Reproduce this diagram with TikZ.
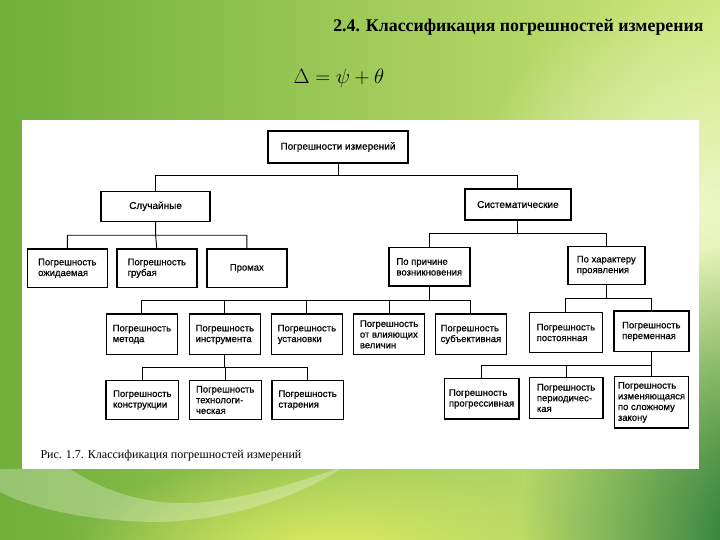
\documentclass[tikz,border=0pt]{standalone}
\usepackage{fontspec}
\setmainfont{Liberation Serif}
\newfontfamily\boxfont[FakeBold=0.6]{Liberation Sans}
\usetikzlibrary{fadings}
\definecolor{bgleft}{RGB}{112,174,58}
\definecolor{bgmid}{RGB}{160,202,62}
\definecolor{bgright}{RGB}{205,230,120}
\definecolor{bglight}{RGB}{238,247,200}
\definecolor{bgdark}{RGB}{22,112,52}
\definecolor{bgyellow}{RGB}{228,238,100}
\tikzfading[name=glow, inner color=transparent!0, outer color=transparent!100]
\tikzset{
  box/.style={draw, line width=1.4pt, fill=white, align=left, inner sep=2pt,
    font=\boxfont\fontsize{9.5}{10.7}\selectfont},
  big/.style={box, align=center, minimum width=106pt, minimum height=31pt,
    font=\boxfont\fontsize{10}{12}\selectfont},
  mid/.style={box, minimum width=80pt, minimum height=38.5pt},
  leaf/.style={box, minimum width=71pt, minimum height=40.5pt},
  link/.style={line width=0.9pt}
}
\begin{document}
\begin{tikzpicture}[x=1pt,y=-1pt]
  \useasboundingbox (0,0) rectangle (720,540);
  \shade[left color=bgleft, middle color=bgmid, right color=bgright] (0,0) rectangle (720,540);
  \fill[bglight, path fading=glow] (700,210) circle (230);
  \fill[bgyellow, path fading=glow] (330,560) ellipse (260 and 110);
  \fill[bgdark, path fading=glow] (770,540) ellipse (250 and 300);
  \fill[white, opacity=0.28] (0,469) -- (70,469) .. controls (110,495) and (160,510) .. (220,500)
    .. controls (270,492) and (310,478) .. (345,466) .. controls (300,497) and (230,520) .. (160,522)
    .. controls (90,522) and (30,508) .. (0,492) -- cycle;
  \fill[white] (22,119.8) rectangle (699,469);

  \node[anchor=base east, font=\fontsize{17.8}{21}\selectfont\bfseries] (title) at (707,32)
    {2.4. Классификация погрешностей измерения};
  \node[anchor=base west, font=\fontsize{22.5}{26}\selectfont] (formula) at (290,84)
    {$\Delta = \psi + \theta$};
  \node[anchor=base west, font=\fontsize{12}{14}\selectfont] (caption) at (37,458)
    {Рис. 1.7. Классификация погрешностей измерений};

  \node[big, minimum width=140pt, minimum height=32pt] (all) at (338,147) {Погрешности измерений};
  \node[big, minimum width=109pt, minimum height=30pt] (sluch) at (155.6,206.3) {Случайные};
  \node[big] (sist) at (517.9,204.5) {Систематические};

  \node[mid] (ozhid) at (67.3,268.3) {Погрешность\\ожидаемая};
  \node[mid] (grub) at (156.8,268.3) {Погрешность\\грубая};
  \node[mid] (promah) at (246.8,268.3) {Промах};
  \node[mid, minimum width=81pt] (prich) at (429.3,266.9) {По причине\\возникновения};
  \node[mid, minimum width=77pt] (harakt) at (606.3,265.5) {По характеру\\проявления};

  \node[leaf] (metod) at (141.9,334.4) {Погрешность\\метода};
  \node[leaf] (instr) at (224.8,334.4) {Погрешность\\инструмента};
  \node[leaf] (ustan) at (306.9,334.4) {Погрешность\\установки};
  \node[leaf] (vliyan) at (389.1,334.4) {Погрешность\\от влияющих\\величин};
  \node[leaf] (subj) at (470.9,334.4) {Погрешность\\субъективная};
  \node[leaf, minimum width=73pt] (post) at (565.9,332.5) {Погрешность\\постоянная};
  \node[leaf, minimum width=75pt] (perem) at (651.3,331.4) {Погрешность\\переменная};

  \node[leaf, minimum width=72.6pt, minimum height=39pt] (konstr) at (142.3,400) {Погрешность\\конструкции};
  \node[leaf, minimum width=72pt, minimum height=39pt] (tehn) at (225.2,400) {Погрешность\\технологи-\\ческая};
  \node[leaf, minimum width=71.6pt, minimum height=39pt] (star) at (307.6,400) {Погрешность\\старения};
  \node[leaf, minimum width=74.4pt] (progr) at (481.6,398.9) {Погрешность\\прогрессивная};
  \node[leaf, minimum width=73.4pt] (period) at (566.1,398) {Погрешность\\периодичес-\\кая};
  \node[leaf, minimum width=74.4pt, minimum height=51.3pt] (izmen) at (651.5,402.4)
    {Погрешность\\изменяющаяся\\по сложному\\закону};

  \coordinate (b0) at (0,175.6);
  \coordinate (b1) at (0,235.2);
  \coordinate (b2) at (0,233.1);
  \coordinate (b3) at (0,300.3);
  \coordinate (b4) at (0,298.2);
  \coordinate (b5) at (0,367.4);
  \coordinate (b6) at (0,365.7);
  \draw[link] (all.south) -- (all.south |- b0) -| (sluch.north)
              (all.south |- b0) -| (sist.north);
  \draw[link] (sluch.south) -- (sluch.south |- b1) -| (ozhid.north)
              (sluch.south |- b1) -| (promah.north)
              (sluch.south |- b1) -- (grub.north);
  \draw[link] (sist.south) -- (sist.south |- b2) -| (prich.north)
              (sist.south |- b2) -| (harakt.north);
  \draw[link] (prich.south) -- (prich.south |- b3) -| (metod.north)
              (prich.south |- b3) -| (instr.north)
              (prich.south |- b3) -| (ustan.north)
              (prich.south |- b3) -| (vliyan.north)
              (prich.south |- b3) -| (subj.north);
  \draw[link] (harakt.south) -- (harakt.south |- b4) -| (post.north)
              (harakt.south |- b4) -| (perem.north);
  \draw[link] (instr.south) -- (instr.south |- b5) -| (konstr.north)
              (instr.south |- b5) -| (tehn.north)
              (instr.south |- b5) -| (star.north);
  \draw[link] (perem.south) -- (perem.south |- b6) -| (progr.north)
              (perem.south |- b6) -| (period.north)
              (perem.south |- b6) -| (izmen.north);
\end{tikzpicture}
\end{document}
